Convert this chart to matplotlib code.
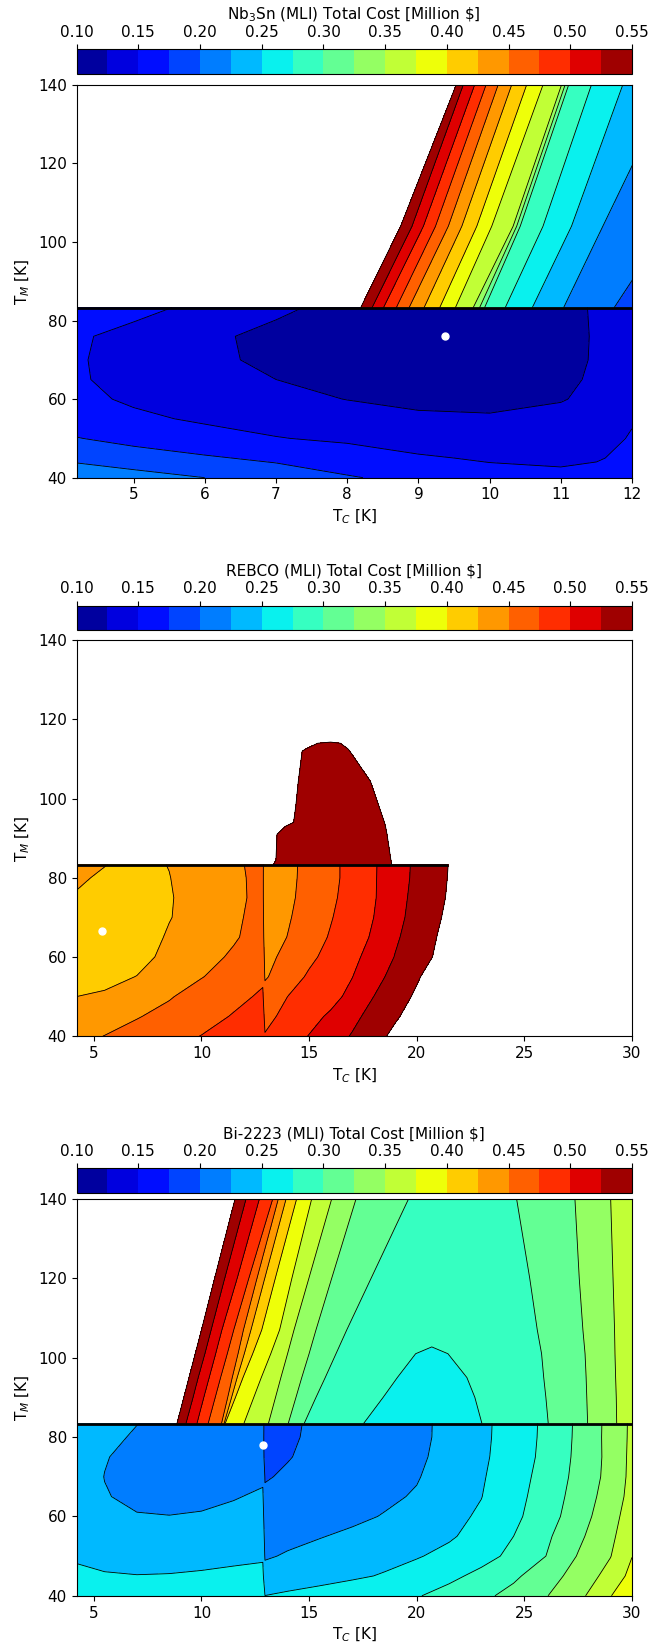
import numpy as np
import matplotlib
matplotlib.use("Agg")
from matplotlib import pyplot as plt
from matplotlib.ticker import FormatStrFormatter

plt.rcParams["font.size"] = 11

LEVELS = np.arange(0.1, 0.5501, 0.025)

# ---------------- Nb3Sn ----------------
# below the T_M switch: regular grid
p1_tc = [4.2, 5, 6, 7, 8, 9, 10, 11, 11.5, 12]
p1_tm = [40, 45, 50, 55, 60, 65, 70, 76, 83.3]
p1_cost = [
    [0.215, 0.209, 0.200, 0.190, 0.177, 0.168, 0.160, 0.156, 0.158, 0.165],
    [0.195, 0.187, 0.178, 0.170, 0.162, 0.153, 0.147, 0.145, 0.148, 0.156],
    [0.176, 0.167, 0.158, 0.151, 0.146, 0.138, 0.136, 0.137, 0.141, 0.152],
    [0.162, 0.154, 0.147, 0.141, 0.136, 0.128, 0.127, 0.130, 0.136, 0.148],
    [0.155, 0.147, 0.140, 0.132, 0.1245, 0.121, 0.120, 0.124, 0.129, 0.140],
    [0.152, 0.144, 0.1345, 0.125, 0.119, 0.116, 0.116, 0.122, 0.127, 0.137],
    [0.152, 0.142, 0.129, 0.121, 0.115, 0.111, 0.112, 0.120, 0.1265, 0.135],
    [0.153, 0.143, 0.128, 0.121, 0.114, 0.109, 0.110, 0.119, 0.1265, 0.132],
    [0.170, 0.157, 0.144, 0.128, 0.120, 0.115, 0.116, 0.122, 0.126, 0.130],
]
# above the switch: T_C where each cost value is reached, per T_M row
p1_up_tm = [83.3, 104, 140]
p1_up_cost = [0.8, 0.55, 0.525, 0.5, 0.475, 0.45, 0.425, 0.4, 0.375,
              0.35, 0.325, 0.3, 0.275, 0.25, 0.225, 0.2, 0.175]
p1_up_tc = [
    [4.2, 8.19, 8.35, 8.51, 8.69, 8.87, 9.08, 9.30, 9.52, 9.77, 9.86, 9.93, 10.22, 10.60, 11.04, 11.75, 12.6],
    [4.2, 8.75, 8.91, 9.07, 9.24, 9.42, 9.61, 9.82, 10.03, 10.33, 10.38, 10.43, 10.75, 11.15, 11.59, 12.5, 13.5],
    [4.2, 9.53, 9.63, 9.79, 9.95, 10.12, 10.31, 10.52, 10.75, 11.01, 11.06, 11.11, 11.43, 11.87, 12.55, 13.3, 14.2],
]
p1_best = (9.38, 76.1)

# ---------------- REBCO ----------------
p2_tc = [4.2, 5.5, 7, 8.5, 10, 11.5, 12.85, 12.95, 14, 15, 16, 17, 18, 19, 20, 21, 22, 30]
p2_tm = [40, 45, 50, 55, 60, 65, 70, 75, 80, 83.3]
p2_cost = [
    [0.4425, 0.4505, 0.459, 0.4675, 0.4755, 0.4835, 0.491, 0.4765, 0.4885, 0.5008, 0.5138, 0.5268, 0.5412, 0.5558, 0.570, 0.584, 0.598, 0.70],
    [0.432, 0.438, 0.4485, 0.4575, 0.467, 0.4765, 0.485, 0.4685, 0.4815, 0.4925, 0.5035, 0.5185, 0.5335, 0.547, 0.5605, 0.574, 0.587, 0.68],
    [0.425, 0.428, 0.438, 0.448, 0.4605, 0.4695, 0.478, 0.460, 0.475, 0.484, 0.4925, 0.5065, 0.525, 0.5398, 0.5535, 0.567, 0.58, 0.67],
    [0.418, 0.4185, 0.4255, 0.4375, 0.449, 0.461, 0.4715, 0.4475, 0.4638, 0.4782, 0.4889, 0.4995, 0.5166, 0.5327, 0.5474, 0.562, 0.575, 0.66],
    [0.4125, 0.410, 0.4175, 0.431, 0.4415, 0.4535, 0.465, 0.443, 0.4565, 0.470, 0.4825, 0.4945, 0.5085, 0.526, 0.5405, 0.5535, 0.567, 0.65],
    [0.4125, 0.408, 0.4135, 0.4275, 0.438, 0.4475, 0.460, 0.437, 0.4505, 0.464, 0.477, 0.4895, 0.503, 0.5215, 0.537, 0.551, 0.563, 0.65],
    [0.415, 0.4095, 0.412, 0.424, 0.435, 0.446, 0.458, 0.4335, 0.4475, 0.461, 0.4735, 0.4868, 0.500, 0.518, 0.5335, 0.548, 0.561, 0.65],
    [0.4235, 0.415, 0.412, 0.4235, 0.434, 0.445, 0.456, 0.4315, 0.4452, 0.4584, 0.4707, 0.4842, 0.498, 0.515, 0.5325, 0.5455, 0.559, 0.65],
    [0.4275, 0.4225, 0.416, 0.4245, 0.435, 0.4455, 0.456, 0.431, 0.4443, 0.4571, 0.4686, 0.4834, 0.4977, 0.5144, 0.5301, 0.5442, 0.558, 0.65],
    [0.428, 0.4255, 0.420, 0.4255, 0.436, 0.446, 0.457, 0.430, 0.444, 0.4568, 0.4691, 0.4827, 0.4975, 0.5139, 0.5297, 0.5436, 0.5575, 0.65],
]
p2_up_tm = [83.3, 84.5, 91, 93, 94, 98, 104.4, 112, 112.6, 114, 116, 140]
p2_up_tc = [
    [4.2, 13.34, 16.0, 18.84, 30],
    [4.2, 13.46, 16.0, 18.80, 30],
    [4.2, 13.51, 16.0, 18.62, 30],
    [4.2, 13.90, 16.0, 18.55, 30],
    [4.2, 14.28, 16.0, 18.50, 30],
    [4.2, 14.38, 16.0, 18.25, 30],
    [4.2, 14.50, 16.0, 17.85, 30],
    [4.2, 14.68, 16.0, 16.89, 30],
    [4.2, 14.86, 16.0, 16.80, 30],
    [4.2, 15.40, 16.0, 16.45, 30],
    [4.2, 15.40, 16.0, 16.45, 30],
    [4.2, 15.40, 16.0, 16.45, 30],
]
p2_up_cost = [[0.8, 0.55, 0.535, 0.55, 0.8]] * 9 + [
    [0.8, 0.55, 0.545, 0.55, 0.8],
    [0.8, 0.60, 0.58, 0.60, 0.8],
    [0.8, 0.8, 0.8, 0.8, 0.8],
]
p2_best = (5.4, 66.6)

# ---------------- Bi-2223 ----------------
p3_tc = [4.2, 5.5, 7, 8.5, 10, 11.5, 12.85, 12.95, 14, 15.5, 17, 18.5, 20, 21.5, 23, 24.5, 26, 27.5, 29, 30]
p3_tm = [40, 45, 50, 55, 60, 65, 70, 75, 80, 83.4]
p3_cost = [
    [0.257, 0.257, 0.2565, 0.2575, 0.259, 0.261, 0.262, 0.2502, 0.2537, 0.2587, 0.2636, 0.2686, 0.2735, 0.2829, 0.2943, 0.3078, 0.3237, 0.3429, 0.3738, 0.3987],
    [0.2525, 0.2515, 0.2505, 0.251, 0.2525, 0.2545, 0.2555, 0.2345, 0.2375, 0.2415, 0.2465, 0.2518, 0.2605, 0.2698, 0.2808, 0.2955, 0.314, 0.3345, 0.3588, 0.3825],
    [0.2485, 0.2445, 0.2425, 0.2425, 0.2435, 0.2455, 0.2475, 0.2225, 0.2272, 0.2325, 0.2378, 0.243, 0.2482, 0.2567, 0.2674, 0.2803, 0.300, 0.3265, 0.3492, 0.3745],
    [0.2465, 0.2375, 0.234, 0.2335, 0.235, 0.238, 0.241, 0.2165, 0.219, 0.224, 0.229, 0.2335, 0.2395, 0.247, 0.259, 0.275, 0.2953, 0.3198, 0.345, 0.366],
    [0.244, 0.2315, 0.2265, 0.2255, 0.227, 0.231, 0.235, 0.209, 0.2125, 0.2165, 0.2205, 0.2262, 0.235, 0.2435, 0.2532, 0.2695, 0.2889, 0.3135, 0.3409, 0.3618],
    [0.2415, 0.2265, 0.2195, 0.2175, 0.2195, 0.2235, 0.2285, 0.2035, 0.2075, 0.212, 0.2165, 0.221, 0.227, 0.2385, 0.2495, 0.2665, 0.2865, 0.3095, 0.3365, 0.358],
    [0.2405, 0.2245, 0.216, 0.2135, 0.2135, 0.216, 0.221, 0.1985, 0.2025, 0.2082, 0.2135, 0.2185, 0.2235, 0.2355, 0.2476, 0.2643, 0.2838, 0.3068, 0.3329, 0.3566],
    [0.242, 0.2265, 0.217, 0.213, 0.2115, 0.211, 0.211, 0.1905, 0.199, 0.2055, 0.211, 0.2162, 0.221, 0.2325, 0.2458, 0.2619, 0.2813, 0.3054, 0.3321, 0.356],
    [0.245, 0.2315, 0.222, 0.216, 0.213, 0.211, 0.209, 0.189, 0.1965, 0.2055, 0.2095, 0.2145, 0.219, 0.2318, 0.2448, 0.2611, 0.2802, 0.3046, 0.3327, 0.355],
    [0.249, 0.238, 0.2255, 0.219, 0.215, 0.212, 0.210, 0.190, 0.1975, 0.203, 0.2085, 0.2140, 0.219, 0.2315, 0.2446, 0.2608, 0.2799, 0.3043, 0.3325, 0.3548],
]
p3_up_tm = [83.4, 90, 95, 101, 107, 120, 140]
p3_up_tc = [
    [4.2, 8.86, 9.28, 9.79, 10.31, 10.93, 11.05, 11.10, 11.97, 13.11, 14.03, 14.77, 17.53, 20.3, 23.03, 26.11, 27.94, 29.29, 30],
    [4.2, 9.18, 9.61, 10.11, 10.64, 11.22, 11.40, 11.58, 12.43, 13.44, 14.39, 15.32, 18.44, 20.6, 22.70, 26.00, 27.90, 29.27, 30],
    [4.2, 9.42, 9.85, 10.36, 10.89, 11.43, 11.66, 11.93, 12.78, 13.69, 14.66, 15.75, 19.10, 20.7, 22.33, 25.90, 27.87, 29.24, 30],
    [4.2, 9.71, 10.16, 10.66, 11.20, 11.70, 11.99, 12.38, 13.22, 14.00, 15.00, 16.25, 19.95, 20.7, 21.45, 25.80, 27.82, 29.21, 30],
    [4.2, 10.00, 10.45, 10.95, 11.50, 11.95, 12.30, 12.80, 13.63, 14.30, 15.32, 16.75, 19.90, 20.7, 21.50, 25.60, 27.72, 29.19, 30],
    [4.2, 10.61, 11.08, 11.66, 12.20, 12.58, 12.94, 13.43, 14.20, 14.99, 16.05, 17.88, 20.50, 21.5, 22.50, 25.25, 27.55, 29.12, 30],
    [4.2, 11.56, 12.07, 12.69, 13.31, 13.57, 13.93, 14.42, 15.12, 16.05, 17.18, 19.62, 21.00, 22.0, 23.00, 24.64, 27.35, 29.01, 30],
]
p3_band_cost = [0.8, 0.55, 0.525, 0.5, 0.475, 0.45, 0.425, 0.4, 0.375, 0.35, 0.325, 0.3]
p3_dome_cost = [
    [0.275, 0.262, 0.275],
    [0.275, 0.266, 0.275],
    [0.275, 0.269, 0.275],
    [0.275, 0.273, 0.275],
    [0.283, 0.280, 0.283],
    [0.288, 0.286, 0.288],
    [0.290, 0.289, 0.290],
]
p3_right_cost = [0.3, 0.325, 0.35, 0.36]
p3_up_cost = [p3_band_cost + d + p3_right_cost for d in p3_dome_cost]
p3_best = (12.88, 78.1)


def cost_panel(fig, ax_box, cb_box, title, low, up, seam_tc, best, tc_max, xticks):
    ax = fig.add_axes(ax_box)
    tc, tm, cost = low
    cs = ax.contourf(tc, tm, cost, levels=LEVELS, cmap="jet")
    ax.contour(tc, tm, cost, levels=LEVELS, colors="k", linewidths=0.6)

    utc, utm, ucost = up
    utc = np.asarray(utc, dtype=float)
    ucost = np.asarray(ucost, dtype=float)
    if ucost.ndim == 1:
        ucost = np.tile(ucost, (utc.shape[0], 1))
    utm2 = np.repeat(np.asarray(utm, dtype=float)[:, None], utc.shape[1], axis=1)
    ax.contourf(utc, utm2, ucost, levels=LEVELS, cmap="jet")
    ax.contour(utc, utm2, ucost, levels=LEVELS, colors="k", linewidths=0.6)

    # switch between the two cooling regimes
    ax.plot(seam_tc, [tm[-1], tm[-1]], color="k", lw=2, solid_capstyle="butt")
    ax.plot(best[0], best[1], "o", color="w", ms=5, zorder=5)

    ax.set_xlim(4.2, tc_max)
    ax.set_ylim(40, 140)
    ax.set_xticks(xticks)
    ax.set_yticks([40, 60, 80, 100, 120, 140])
    ax.set_xlabel("T$_C$ [K]")
    ax.set_ylabel("T$_M$ [K]")

    cax = fig.add_axes(cb_box)
    cb = fig.colorbar(cs, cax=cax, orientation="horizontal",
                      ticks=np.arange(0.1, 0.551, 0.05))
    cax.xaxis.set_ticks_position("top")
    cax.xaxis.set_label_position("top")
    cax.xaxis.set_major_formatter(FormatStrFormatter("%.2f"))
    cb.set_label(title)
    return ax


fig = plt.figure(figsize=(6.52, 16.46), dpi=100)
L, W = 0.1175, 0.8518

cost_panel(fig, [L, 0.7098, W, 0.2386], [L, 0.9553, W, 0.0147],
           r"Nb$_3$Sn (MLI) Total Cost [Million \$]",
           (p1_tc, p1_tm, p1_cost), (p1_up_tc, p1_up_tm, p1_up_cost),
           [4.2, 12], p1_best, 12, range(5, 13))

cost_panel(fig, [L, 0.3705, W, 0.2405], [L, 0.6173, W, 0.0147],
           r"REBCO (MLI) Total Cost [Million \$]",
           (p2_tc, p2_tm, p2_cost), (p2_up_tc, p2_up_tm, p2_up_cost),
           [4.2, 21.46], p2_best, 30, range(5, 31, 5))

cost_panel(fig, [L, 0.0305, W, 0.2411], [L, 0.2755, W, 0.0147],
           r"Bi-2223 (MLI) Total Cost [Million \$]",
           (p3_tc, p3_tm, p3_cost), (p3_up_tc, p3_up_tm, p3_up_cost),
           [4.2, 30], p3_best, 30, range(5, 31, 5))

fig.savefig("out.png", dpi=100)
